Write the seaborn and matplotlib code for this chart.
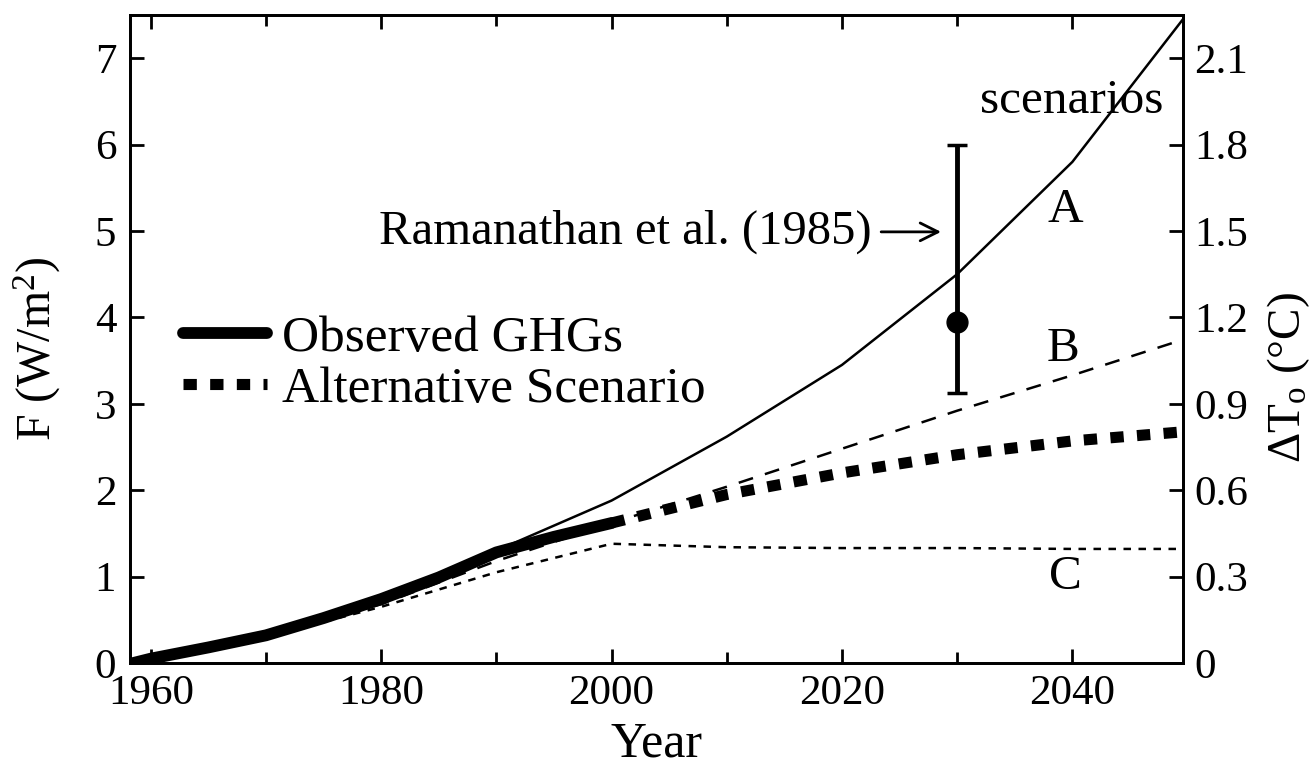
import numpy as np
import pandas as pd
import seaborn as sns
import matplotlib.pyplot as plt

# forcing values (W/m2)
obs_year = [1958.5, 1960, 1965, 1970, 1975, 1980, 1985, 1990, 1995, 2000]
obs_f = [0.0, 0.05, 0.18, 0.32, 0.52, 0.74, 0.99, 1.28, 1.46, 1.62]

alt_year = [2000, 2010, 2020, 2030, 2040, 2050]
alt_f = [1.62, 1.95, 2.20, 2.41, 2.57, 2.68]

scen_year = [1958.5, 1960, 1970, 1980, 1990, 2000, 2010, 2020, 2030, 2040, 2050]
scen_a = [0.0, 0.04, 0.33, 0.74, 1.30, 1.88, 2.62, 3.45, 4.50, 5.80, 7.52]
scen_b = [0.0, 0.04, 0.30, 0.68, 1.18, 1.62, 2.04, 2.48, 2.92, 3.33, 3.76]
scen_c = [0.0, 0.04, 0.30, 0.65, 1.05, 1.38, 1.34, 1.33, 1.33, 1.32, 1.32]

# Ramanathan et al. (1985) estimate
ram_year = 2030
ram_f = 3.95
ram_low = 3.13
ram_high = 6.0

sns.set_style("ticks")
plt.rcParams['font.family'] = ['Liberation Serif', 'DejaVu Serif']
plt.rcParams['mathtext.fontset'] = 'custom'
plt.rcParams['mathtext.rm'] = 'Liberation Serif'
plt.rcParams['mathtext.it'] = 'Liberation Serif'
for k in ['text.color', 'axes.labelcolor', 'xtick.color', 'ytick.color', 'axes.edgecolor']:
    plt.rcParams[k] = 'black'

fig = plt.figure(figsize=(13.15, 7.66), dpi=100)
ax = fig.add_axes([0.0989, 0.1345, 0.8007, 0.8459])

scen = pd.DataFrame({'year': scen_year, 'A': scen_a, 'B': scen_b, 'C': scen_c})
sns.lineplot(data=scen, x='year', y='A', ax=ax, color='black', lw=1.8)
sns.lineplot(data=scen, x='year', y='B', ax=ax, color='black', lw=1.8,
             linestyle=(0, (6, 5)))
sns.lineplot(data=scen, x='year', y='C', ax=ax, color='black', lw=1.8,
             linestyle=(0, (3, 3)))

sns.lineplot(x=alt_year, y=alt_f, ax=ax, color='black', lw=8,
             linestyle=(0, (1.2, 1.2)), label='Alternative Scenario')
sns.lineplot(x=obs_year, y=obs_f, ax=ax, color='black', lw=8.5,
             solid_capstyle='round', label='Observed GHGs')

ax.errorbar([ram_year], [ram_f], yerr=[[ram_f - ram_low], [ram_high - ram_f]],
            fmt='o', color='black', ms=15, elinewidth=3.5, capsize=7, capthick=2.5)

ax.set_xlim(1958.2, 2049.6)
ax.set_ylim(0, 7.5)
ax.set_xticks([1960, 1980, 2000, 2020, 2040])
ax.set_xticks([1970, 1990, 2010, 2030], minor=True)
ax.set_yticks(range(8))
ax.tick_params(axis='x', which='both', direction='in', top=True, labelsize=31,
               width=2, pad=8)
ax.tick_params(axis='x', which='major', length=10)
ax.tick_params(axis='x', which='minor', length=8)
ax.tick_params(axis='y', direction='in', length=10, width=2, labelsize=31, pad=10)
for s in ax.spines.values():
    s.set_linewidth(2)

ax.set_xlabel('Year', fontsize=36, labelpad=6)
ax.set_ylabel(r'F (W/m$^\mathrm{2}$)', fontsize=34.5)
ax.yaxis.set_label_coords(-0.064, 0.485)

ax2 = ax.twinx()
ax2.set_ylim(0, 2.25)
ax2.set_yticks([0, 0.3, 0.6, 0.9, 1.2, 1.5, 1.8, 2.1])
ax2.set_yticklabels(['0', '0.3', '0.6', '0.9', '1.2', '1.5', '1.8', '2.1'])
ax2.tick_params(axis='y', direction='in', length=10, width=2, labelsize=31, pad=8)
for s in ax2.spines.values():
    s.set_linewidth(2)
ax2.set_ylabel(r'$\Delta\mathrm{T}_\mathrm{o}$ (°C)', fontsize=34)
ax2.yaxis.set_label_coords(1.078, 0.44)

ax.text(2039.9, 6.51, 'scenarios', fontsize=35.5, ha='center', va='center')
ax.text(2039.4, 5.24, 'A', fontsize=35.5, ha='center', va='center')
ax.text(2039.2, 3.63, 'B', fontsize=35.5, ha='center', va='center')
ax.text(2039.4, 0.99, 'C', fontsize=35.5, ha='center', va='center')
ax.text(2022.6, 4.99, 'Ramanathan et al. (1985)', fontsize=35,
        ha='right', va='center')
ax.annotate('', xy=(2028.6, 4.99), xytext=(2023.4, 4.99),
            arrowprops=dict(arrowstyle='->', lw=2, color='black',
                            mutation_scale=32, shrinkA=0, shrinkB=0))

handles, labels = ax.get_legend_handles_labels()
order = [labels.index('Observed GHGs'), labels.index('Alternative Scenario')]
ax.legend([handles[i] for i in order], [labels[i] for i in order],
          loc='center left', bbox_to_anchor=(0.05, 0.461), frameon=False,
          fontsize=37, handlelength=1.65, handletextpad=0.28,
          labelspacing=0.08, borderpad=0, borderaxespad=0)

fig.savefig('out.png', dpi=100)
